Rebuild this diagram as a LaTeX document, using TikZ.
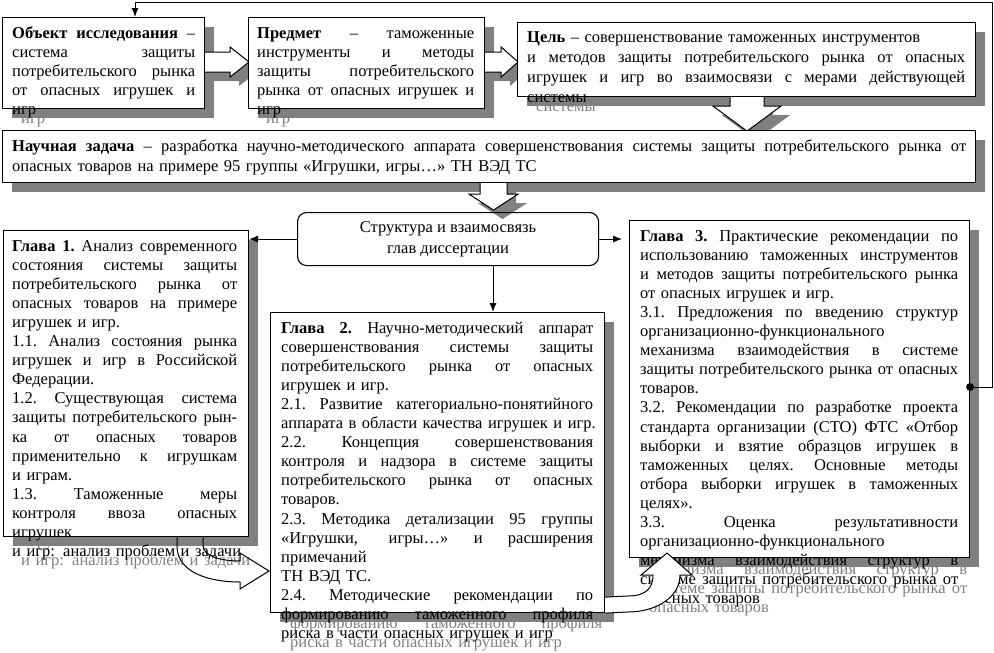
\documentclass[tikz,border=0pt]{standalone}
\usepackage{fontspec}
\setmainfont{Liberation Serif}
\usetikzlibrary{arrows.meta,shadows,calc,positioning}
\tikzset{
    box/.style ={draw, fill=white, line width=1.1pt, inner sep=0pt, anchor=north west,
        drop shadow={shadow xshift=9pt, shadow yshift=-9pt, fill=gray, opacity=1}},
    txt/.style ={anchor=base west, inner sep=0pt, font=\fontsize{16.5}{19.1}\selectfont},
    ghost/.style ={txt, text=gray, xshift=9pt, yshift=-9pt},
    barrow/.style ={draw, fill=white, line width=1pt,
        drop shadow={shadow xshift=9pt, shadow yshift=-9pt, fill=gray, opacity=1}},
    carrow/.style ={draw, line width=1pt},
    link/.style ={-{Latex[length=9pt,width=7pt]}, line width=1pt}
}
% justified and ragged lines
\newcommand\jl[1]{\hbox to \hsize{\spaceskip=.25em plus 1fil\xspaceskip=.25em plus 1fil\relax #1}}
\newcommand\rl[1]{\hbox to \hsize{#1\hfill}}
\newcommand\objtxt{%
\jl{\textbf{Объект исследования} –}
\jl{система защиты}
\jl{потребительского рынка}
\jl{от опасных игрушек и}
\rl{игр}}
\newcommand\subjtxt{%
\jl{\textbf{Предмет} – таможенные}
\jl{инструменты и методы}
\jl{защиты потребительского}
\jl{рынка от опасных игрушек и}
\rl{игр}}
\newcommand\goaltxt{%
\rl{\textbf{Цель} – совершенствование таможенных инструментов}
\jl{и методов защиты потребительского рынка от опасных}
\jl{игрушек и игр во взаимосвязи с мерами действующей}
\rl{системы}}
\newcommand\chonetxt{%
\jl{\textbf{Глава 1.} Анализ современного}
\jl{состояния системы защиты}
\jl{потребительского рынка от}
\jl{опасных товаров на примере}
\rl{игрушек и игр.}
\jl{1.1. Анализ состояния рынка}
\jl{игрушек и игр в Российской}
\rl{Федерации.}
\jl{1.2. Существующая система}
\jl{защиты потребительского рын-}
\jl{ка от опасных товаров}
\jl{применительно к игрушкам}
\rl{и играм.}
\jl{1.3. Таможенные меры}
\jl{контроля ввоза опасных}
\rl{игрушек}
\rl{и игр: анализ проблем и задачи}}
\newcommand\chtwotxt{%
\jl{\textbf{Глава 2.} Научно-методический аппарат}
\jl{совершенствования системы защиты}
\jl{потребительского рынка от опасных}
\rl{игрушек и игр.}
\jl{2.1. Развитие категориально-понятийного}
\rl{аппарата в области качества игрушек и игр.}
\jl{2.2. Концепция совершенствования}
\jl{контроля и надзора в системе защиты}
\jl{потребительского рынка от опасных}
\rl{товаров.}
\jl{2.3. Методика детализации 95 группы}
\jl{«Игрушки, игры…» и расширения}
\rl{примечаний}
\rl{ТН ВЭД ТС.}
\jl{2.4. Методические рекомендации по}
\jl{формированию таможенного профиля}
\rl{риска в части опасных игрушек и игр}}
\newcommand\chthreetxt{%
\jl{\textbf{Глава 3.} Практические рекомендации по}
\jl{использованию таможенных инструментов}
\jl{и методов защиты потребительского рынка}
\rl{от опасных игрушек и игр.}
\jl{3.1. Предложения по введению структур}
\rl{организационно-функционального}
\jl{механизма взаимодействия в системе}
\jl{защиты потребительского рынка от опасных}
\rl{товаров.}
\jl{3.2. Рекомендации по разработке проекта}
\jl{стандарта организации (СТО) ФТС «Отбор}
\jl{выборки и взятие образцов игрушек в}
\jl{таможенных целях. Основные методы}
\jl{отбора выборки игрушек в таможенных}
\rl{целях».}
\jl{3.3. Оценка результативности}
\rl{организационно-функционального}
\jl{механизма взаимодействия структур в}
\jl{системе защиты потребительского рынка от}
\rl{опасных товаров}}

\begin{document}
\begin{tikzpicture}[x=1pt,y=-1pt]
    \useasboundingbox (0,0) rectangle (994,653);
    % top row
    \node[ghost, text width=183pt] at (12,38) {\objtxt};
    \node[box, minimum width=202pt, minimum height=91pt] (obj) at (2,17) {};
    \node[txt, text width=183pt] (objtext) at (12,38) {\objtxt};
    \path[barrow] ($(obj.north east)+(0,35)$) -- ++(25,0) -- ++(0,-5) -- ++(19,15) -- ++(-19,15) -- ++(0,-5) -- ++(-25,0);

    \node[ghost, text width=217pt] at (257,38) {\subjtxt};
    \node[box, minimum width=236pt, minimum height=91pt] (subj) at (248,17) {};
    \node[txt, text width=217pt] (subjtext) at (257,38) {\subjtxt};
    \path[barrow] ($(subj.north east)+(0,35)$) -- ++(16,0) -- ++(0,-5) -- ++(17,15) -- ++(-17,15) -- ++(0,-5) -- ++(-16,0);

    \node[ghost, text width=438pt, font=\fontsize{16.5}{20}\selectfont] at (527,42) {\goaltxt};
    \node[box, minimum width=458pt, minimum height=74pt] (goal) at (517,22) {};
    \node[txt, text width=438pt, font=\fontsize{16.5}{20}\selectfont] (goaltext) at (527,42) {\goaltxt};
    \path[barrow] ($(goal.south west)+(213,0)$) -- ++(0,9) -- ++(-17,0) -- ++(34,25) -- ++(34,-25) -- ++(-17,0) -- ++(0,-9);

    % task
    \node[box, minimum width=973pt, minimum height=52pt] (task) at (2,130) {};
    \node[txt, text width=954pt, font=\fontsize{16.5}{20.5}\selectfont] (tasktext) at (12,151) {%
      \jl{\textbf{Научная задача} – разработка научно-методического аппарата совершенствования системы защиты потребительского рынка от}
      \rl{опасных товаров на примере 95 группы «Игрушки, игры…» ТН ВЭД ТС}};
    \path[barrow] ($(task.south west)+(478,0)$) -- ++(0,11) -- ++(-11,0) -- ++(24.5,16) -- ++(24.5,-16) -- ++(-11,0) -- ++(0,-11);

    \node[draw, rounded corners=9pt, line width=1.1pt, anchor=north west, minimum width=301pt, minimum height=53pt,
        align=center, font=\fontsize{16.5}{21}\selectfont] (struct) at (297,212) {Структура и взаимосвязь\\глав диссертации};
    \coordinate (mid) at (493,0);

    % chapters
    \node[ghost, text width=225pt] at (12,251) {\chonetxt};
    \node[box, minimum width=245pt, minimum height=306pt] (ch1) at (3,230) {};
    \path[carrow] ($(ch1.south west)+(174,0)$) -- ++(0,9) .. controls (177,572) and (208,582) .. (240,582) -- (240,589) -- (269,571) -- (240,553) -- (240,561) .. controls (220,561) and (203,556) .. (203,545) -- (203,536);
    \node[txt, text width=225pt] (ch1text) at (12,251) {\chonetxt};

    \node[ghost, text width=312pt] at (281,333) {\chtwotxt};
    \node[box, minimum width=334pt, minimum height=300pt] (ch2) at (270,312) {};
    \node[txt, text width=312pt] (ch2text) at (281,333) {\chtwotxt};

    \node[ghost, text width=318pt] at (640,241) {\chthreetxt};
    \node[box, minimum width=340pt, minimum height=337pt] (ch3) at (629,220) {};
    \node[txt, text width=318pt] (ch3text) at (640,241) {\chthreetxt};
    \path[carrow, fill=white] ($(ch2.south east)+(0,-16)$) -- (628,596) .. controls (646,596) and (653,588) .. (653,575) -- (641,575) -- (667,553) -- (692,575) -- (680,575) .. controls (680,598) and (655,612) .. (628,612) -- (ch2.south east);

    % links
    \draw[link] (struct.west) -- (ch1.east |- struct.west);
    \draw[link, shorten >=7pt] (struct.east) -- (ch3.west |- struct.east);
    \draw[link] (struct.south -| mid) -- (ch2.north -| mid);
    \coordinate (fb) at ($(ch3.north east)+(0,167)$);
    \fill (fb) circle (4pt);
    \draw[link] (fb) -- ++(22,0) |- ($(obj.north west)+(133,-15)$) -- ($(obj.north west)+(133,0)$);
\end{tikzpicture}
\end{document}
